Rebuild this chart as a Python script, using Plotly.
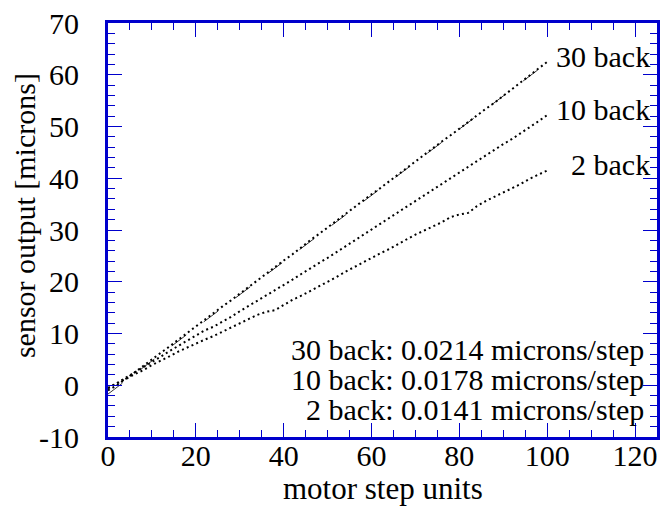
import plotly.graph_objects as go

# motor step positions (every 2 steps)
steps = list(range(0, 101, 2))

# sensor readings [microns] for each backlash setting
back30 = [-1.0, 0.0, 1.2, 2.4, 3.7, 5.0, 6.2, 7.5, 8.8, 10.1,
          11.3, 12.6, 13.9, 15.2, 16.4, 17.7, 19.0, 20.3, 21.5, 22.8,
          24.1, 25.3, 26.7, 28.0, 29.2, 30.5, 31.8, 33.0, 34.3, 35.6,
          36.9, 38.1, 39.4, 40.6, 41.9, 43.2, 44.5, 45.8, 47.1, 48.3,
          49.6, 50.9, 52.1, 53.4, 54.6, 55.9, 57.2, 58.5, 59.8, 61.1,
          62.5]
back10 = [-0.6, 0.4, 1.4, 2.4, 3.5, 4.5, 5.5, 6.6, 7.6, 8.6,
          9.6, 10.6, 11.3, 12.2, 13.2, 14.3, 15.3, 16.4, 17.3, 18.4,
          19.4, 20.4, 21.5, 22.6, 23.6, 24.6, 25.7, 26.8, 27.9, 29.0,
          30.1, 31.2, 32.3, 33.4, 34.5, 35.6, 36.7, 37.9, 38.9, 40.0,
          41.1, 42.2, 43.3, 44.4, 45.5, 46.6, 47.6, 48.7, 49.8, 51.0,
          52.2]
back2 = [-0.5, 0.3, 1.2, 2.1, 2.9, 3.9, 4.7, 5.6, 6.5, 7.3,
         8.1, 8.8, 9.5, 10.3, 11.2, 12.0, 12.8, 13.6, 14.2, 14.5,
         15.5, 16.5, 17.3, 18.2, 19.0, 19.9, 20.9, 21.9, 22.8, 23.7,
         24.7, 25.5, 26.3, 27.3, 28.2, 29.1, 29.9, 30.6, 31.5, 32.5,
         33.0, 33.3, 34.6, 35.6, 36.4, 37.3, 38.1, 38.9, 39.9, 40.7,
         41.5]

# straight-line fit for the 30 back run (end points)
fit30_x = [0, 100]
fit30_y = [-1.7, 62.3]

series_names = ["30 back", "10 back", "2 back"]
series_values = [back30, back10, back2]
series_label_y = [63.6, 53.3, 42.7]

rate_labels = ["30 back: 0.0214 microns/step",
               "10 back: 0.0178 microns/step",
               "2 back: 0.0141 microns/step"]
rate_label_y = [7.0, 1.2, -4.6]

x_ticks = [0, 20, 40, 60, 80, 100, 120]
x_tick_text = ["0", "20", "40", "60", "80", "100", "120"]
y_ticks = [-10, 0, 10, 20, 30, 40, 50, 60, 70]
y_tick_text = ["-10", "0", "10", "20", "30", "40", "50", "60", "70"]

FONT = "Liberation Serif"
AXIS_BLUE = "#0000CC"

fig = go.Figure()

fig.add_trace(go.Scatter(
    x=fit30_x, y=fit30_y, mode="lines",
    line=dict(color="black", width=0.8, dash="18px,22px"),
    hoverinfo="skip", showlegend=False))

for name, vals in zip(series_names, series_values):
    fig.add_trace(go.Scatter(
        x=steps, y=vals, mode="lines", name=name,
        line=dict(color="black", width=2.0, dash="2px,3.2px"),
        showlegend=False))

annotations = []
for name, ly in zip(series_names, series_label_y):
    annotations.append(dict(
        x=123.8, y=ly, xref="x", yref="y", text=name, showarrow=False,
        xanchor="right", yanchor="middle",
        font=dict(family=FONT, size=30, color="black")))
for txt, ly in zip(rate_labels, rate_label_y):
    annotations.append(dict(
        x=122.4, y=ly, xref="x", yref="y", text=txt, showarrow=False,
        xanchor="right", yanchor="middle",
        font=dict(family=FONT, size=30, color="black")))

# axis titles drawn as annotations
annotations.append(dict(
    x=-0.152, y=0.535, xref="paper", yref="paper",
    text="sensor output [microns]", showarrow=False, textangle=-90,
    xanchor="center", yanchor="middle",
    font=dict(family=FONT, size=30, color="black")))
annotations.append(dict(
    x=0.5, y=-0.124, xref="paper", yref="paper",
    text="motor step units", showarrow=False,
    xanchor="center", yanchor="middle",
    font=dict(family=FONT, size=31, color="black")))

axis_common = dict(
    showline=True, linecolor=AXIS_BLUE, linewidth=3, mirror="ticks",
    ticks="inside", ticklen=14, tickwidth=1.3, tickcolor=AXIS_BLUE,
    showgrid=False, zeroline=False,
    tickfont=dict(family=FONT, size=30, color="black"),
)

fig.update_layout(
    width=666, height=510,
    margin=dict(l=108, r=6, t=23, b=73),
    paper_bgcolor="white", plot_bgcolor="white",
    annotations=annotations,
    xaxis=dict(
        range=[0, 125], tickvals=x_ticks, ticktext=x_tick_text,
        minor=dict(dtick=5, tick0=0, ticks="inside", ticklen=7,
                   tickwidth=1.3, tickcolor=AXIS_BLUE),
        ticklabelstandoff=-10,
        **axis_common),
    yaxis=dict(
        range=[-10, 70], tickvals=y_ticks, ticktext=y_tick_text,
        minor=dict(dtick=2, tick0=0, ticks="inside", ticklen=7,
                   tickwidth=1.3, tickcolor=AXIS_BLUE),
        ticklabelstandoff=20,
        **axis_common),
)

fig.write_html("out.html")
